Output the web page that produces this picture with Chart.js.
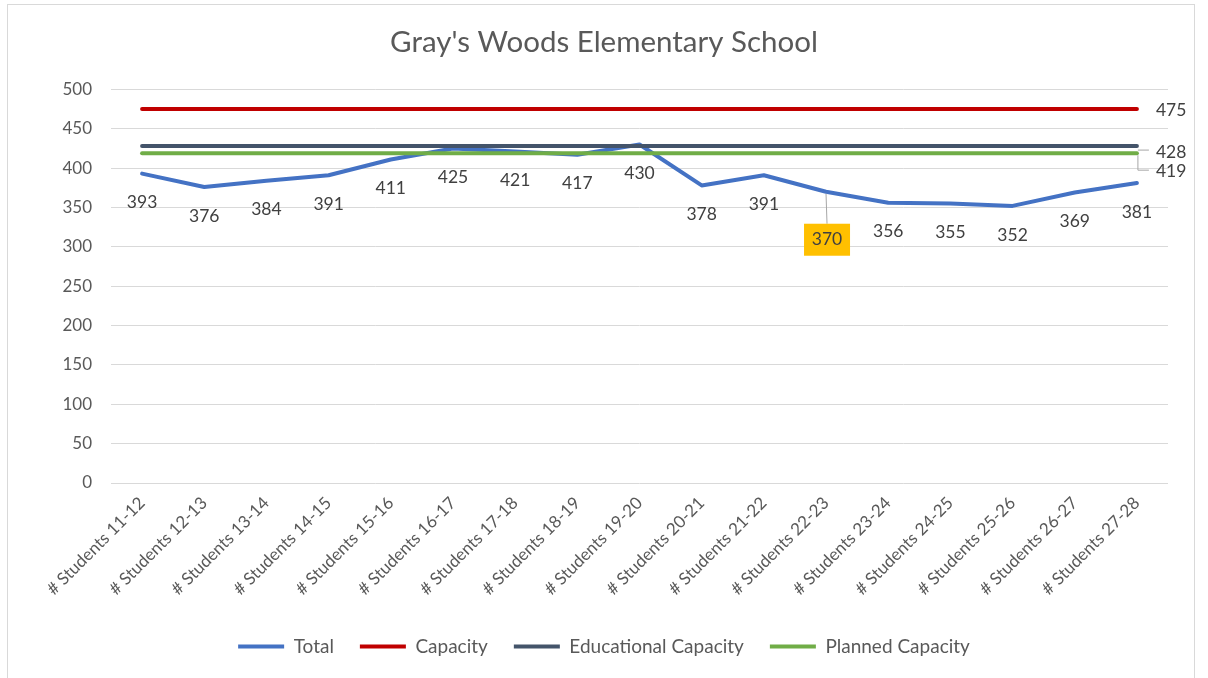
<!DOCTYPE html>
<html>
<head>
<meta charset="utf-8">
<script src="https://cdn.jsdelivr.net/npm/chart.js@4.4.1/dist/chart.umd.min.js"></script>
<style>
  html, body { margin: 0; padding: 0; background: #ffffff; }
  #frame { position: absolute; left: 7px; top: 4px; width: 1186px; height: 700px; border: 1px solid #d9d9d9; }
  #wrap { position: absolute; left: 0; top: 0; width: 1208px; height: 678px; }
</style>
</head>
<body>
<div id="frame"></div>
<div id="wrap"><canvas id="chart" width="1208" height="678"></canvas></div>
<script>
const years = ["11-12", "12-13", "13-14", "14-15", "15-16", "16-17", "17-18", "18-19", "19-20",
               "20-21", "21-22", "22-23", "23-24", "24-25", "25-26", "26-27", "27-28"];
const categories = years.map(y => "# Students " + y);
const totalStudents = [393, 376, 384, 391, 411, 425, 421, 417, 430, 378, 391, 370, 356, 355, 352, 369, 381];
const capacity = 475;
const educationalCapacity = 428;
const plannedCapacity = 419;
const yTicks = [0, 50, 100, 150, 200, 250, 300, 350, 400, 450, 500];

const fontFamily = "Lato, 'Open Sans', sans-serif";
const textColor = "#595959";
const labelColor = "#404040";

function flat(v) { return categories.map(() => v); }

// value labels, drawn from the element positions
const labelPlugin = {
  id: 'valueLabels',
  afterDatasetsDraw(chart) {
    const ctx = chart.ctx;
    ctx.save();
    ctx.font = "17.5px " + fontFamily;
    ctx.textAlign = "center";
    ctx.textBaseline = "middle";

    const totalPts = chart.getDatasetMeta(0).data;
    totalPts.forEach((pt, i) => {
      if (i === 11) {
        // highlighted label with leader line
        const bx = pt.x + 1, by = pt.y + 48;
        ctx.strokeStyle = "#a6a6a6";
        ctx.lineWidth = 1;
        ctx.beginPath();
        ctx.moveTo(pt.x, pt.y + 2);
        ctx.lineTo(bx, by - 16);
        ctx.stroke();
        ctx.fillStyle = "#FFC000";
        ctx.fillRect(bx - 23, by - 16, 46, 32);
        ctx.fillStyle = labelColor;
        ctx.fillText(totalStudents[i], bx, by);
      } else {
        ctx.fillStyle = labelColor;
        ctx.fillText(totalStudents[i], pt.x, pt.y + 29);
      }
    });

    const last = categories.length - 1;
    const cap = chart.getDatasetMeta(1).data[last];
    const edu = chart.getDatasetMeta(2).data[last];
    const pla = chart.getDatasetMeta(3).data[last];
    ctx.textAlign = "left";
    ctx.fillStyle = labelColor;
    ctx.fillText(capacity, cap.x + 19, cap.y + 1);

    ctx.strokeStyle = "#a6a6a6";
    ctx.lineWidth = 1;
    ctx.beginPath();
    ctx.moveTo(edu.x + 1, edu.y + 4);
    ctx.lineTo(edu.x + 12, edu.y + 4);
    ctx.moveTo(pla.x + 1, pla.y + 2);
    ctx.lineTo(pla.x + 1, pla.y + 17);
    ctx.lineTo(pla.x + 12, pla.y + 17);
    ctx.stroke();
    ctx.fillText(educationalCapacity, edu.x + 19, edu.y + 6);
    ctx.fillText(plannedCapacity, pla.x + 19, pla.y + 18);
    ctx.restore();
  }
};

const lineDefaults = {
  borderWidth: 4,
  pointRadius: 0,
  pointHoverRadius: 0,
  fill: false,
  tension: 0,
  borderCapStyle: 'round',
  borderJoinStyle: 'round'
};

new Chart(document.getElementById('chart'), {
  type: 'line',
  data: {
    labels: categories,
    datasets: [
      Object.assign({ label: 'Total', data: totalStudents, borderColor: '#4472C4', backgroundColor: '#4472C4', order: 4 }, lineDefaults),
      Object.assign({ label: 'Capacity', data: flat(capacity), borderColor: '#C00000', backgroundColor: '#C00000', order: 3 }, lineDefaults),
      Object.assign({ label: 'Educational Capacity', data: flat(educationalCapacity), borderColor: '#44546A', backgroundColor: '#44546A', order: 2 }, lineDefaults),
      Object.assign({ label: 'Planned Capacity', data: flat(plannedCapacity), borderColor: '#70AD47', backgroundColor: '#70AD47', order: 1 }, lineDefaults)
    ]
  },
  options: {
    responsive: false,
    animation: false,
    events: [],
    layout: { padding: { left: 40, right: 40, top: 0, bottom: 12 } },
    plugins: {
      title: {
        display: true,
        text: "Gray's Woods Elementary School",
        color: textColor,
        font: { family: fontFamily, size: 29.5, weight: 'normal' },
        padding: { top: 25, bottom: 29 }
      },
      legend: {
        display: true,
        position: 'bottom',
        labels: {
          color: textColor,
          font: { family: fontFamily, size: 19 },
          usePointStyle: true,
          pointStyle: 'line',
          pointStyleWidth: 46,
          boxHeight: 4,
          padding: 26,
          sort: (a, b) => a.datasetIndex - b.datasetIndex
        }
      },
      tooltip: { enabled: false }
    },
    scales: {
      x: {
        offset: true,
        grid: { display: false },
        border: { display: false },
        ticks: {
          color: textColor,
          font: { family: fontFamily, size: 17 },
          maxRotation: 45,
          minRotation: 45,
          autoSkip: false,
          padding: 2
        },
        afterFit(scale) { scale.height = 128; }
      },
      y: {
        min: 0,
        max: 500,
        afterBuildTicks(scale) { scale.ticks = yTicks.map(v => ({ value: v })); },
        grid: { color: '#d9d9d9', lineWidth: 1, drawTicks: false },
        border: { display: false },
        ticks: {
          color: textColor,
          font: { family: fontFamily, size: 17 },
          padding: 19
        },
        afterFit(scale) { scale.width = 71; }
      }
    }
  },
  plugins: [labelPlugin]
});
</script>
</body>
</html>
